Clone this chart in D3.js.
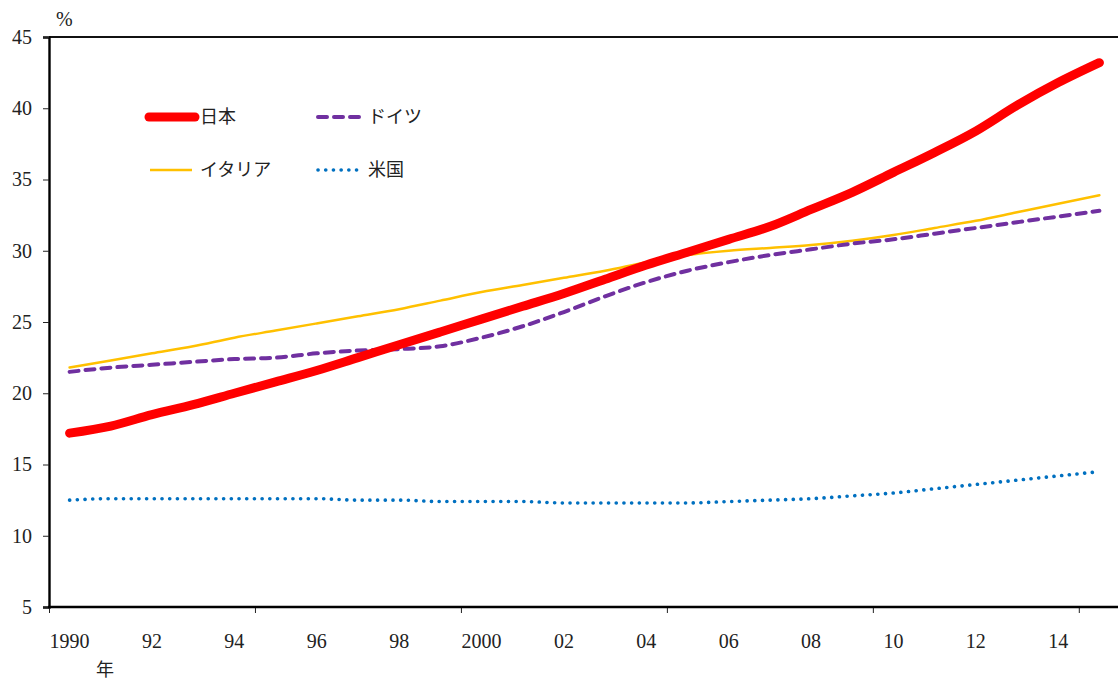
<!DOCTYPE html>
<html>
<head>
<meta charset="utf-8">
<script src="https://cdn.jsdelivr.net/npm/d3@7"></script>
<style>
  body { margin: 0; background: #fff; }
  svg text { fill: #222; }
  .num { font-family: 'Liberation Serif', 'DejaVu Serif', serif; font-size: 20px; }
  .jp { font-family: 'Noto Sans CJK JP', sans-serif; font-size: 18px; }
</style>
</head>
<body>
<div id="chart"></div>
<script>
// data
var years = [1990, 1991, 1992, 1993, 1994, 1995, 1996, 1997, 1998, 1999, 2000, 2001, 2002,
             2003, 2004, 2005, 2006, 2007, 2008, 2009, 2010, 2011, 2012, 2013, 2014, 2015];
var japan   = [17.2, 17.7, 18.5, 19.2, 20.0, 20.8, 21.6, 22.5, 23.4, 24.3, 25.2, 26.1, 27.0,
               28.0, 29.0, 29.9, 30.8, 31.7, 32.9, 34.1, 35.5, 36.9, 38.4, 40.2, 41.8, 43.2];
var germany = [21.5, 21.8, 22.0, 22.2, 22.4, 22.5, 22.8, 23.0, 23.1, 23.3, 23.9, 24.7, 25.7,
               26.8, 27.8, 28.6, 29.2, 29.7, 30.1, 30.5, 30.8, 31.2, 31.6, 32.0, 32.4, 32.8];
var italy   = [21.8, 22.3, 22.8, 23.3, 23.9, 24.4, 24.9, 25.4, 25.9, 26.5, 27.1, 27.6, 28.1,
               28.6, 29.2, 29.7, 30.0, 30.2, 30.4, 30.7, 31.1, 31.6, 32.1, 32.7, 33.3, 33.9];
var usa     = [12.5, 12.6, 12.6, 12.6, 12.6, 12.6, 12.6, 12.5, 12.5, 12.4, 12.4, 12.4, 12.3,
               12.3, 12.3, 12.3, 12.4, 12.5, 12.6, 12.8, 13.0, 13.3, 13.6, 13.9, 14.2, 14.5];
var seriesNames = ['日本', 'ドイツ', 'イタリア', '米国'];
var yTicks = [5, 10, 15, 20, 25, 30, 35, 40, 45];
var xLabelYears = [1990, 1992, 1994, 1996, 1998, 2000, 2002, 2004, 2006, 2008, 2010, 2012, 2014];

(function() {
  var width = 1118, height = 680;
  var plotLeft = 49, plotRight = 1120, plotTop = 37, plotBottom = 607;

  var svg = d3.select('#chart').append('svg')
      .attr('width', width)
      .attr('height', height);

  var x = d3.scaleBand().domain(years).range([plotLeft, plotRight]).padding(0);
  var xEdge = d3.scaleLinear().domain([0, years.length]).range([plotLeft, plotRight]);
  var y = d3.scaleLinear().domain([5, 45]).range([plotBottom, plotTop]);

  var styles = [
    { color: '#FF0000', width: 9, dash: null },
    { color: '#7030A0', width: 4, dash: '9,7' },
    { color: '#FFC000', width: 2.5, dash: null },
    { color: '#0070C0', width: 3.6, dash: '0.1,7.6' }
  ];
  var values = [japan, germany, italy, usa];

  // top frame line
  svg.append('line')
      .attr('x1', plotLeft).attr('x2', width)
      .attr('y1', y(45)).attr('y2', y(45))
      .attr('stroke', '#111').attr('stroke-width', 2);

  // y axis
  var yAxis = svg.append('g')
      .attr('class', 'num')
      .attr('transform', 'translate(' + plotLeft + ',0)')
      .call(d3.axisLeft(y).tickValues(yTicks).tickSize(6).tickPadding(11));
  yAxis.select('.domain').attr('stroke', '#000').attr('stroke-width', 2.4);
  yAxis.selectAll('.tick line').attr('stroke', '#222');
  yAxis.selectAll('text').attr('font-size', 20).attr('font-family', null);

  // x axis: labels at category centers, tick marks every 5 categories on band edges
  var xAxis = svg.append('g')
      .attr('class', 'num')
      .attr('transform', 'translate(0,' + plotBottom + ')')
      .call(d3.axisBottom(x).tickValues(xLabelYears).tickSize(0).tickPadding(27)
        .tickFormat(function(d) {
          if (d == 1990 || d == 2000) return d;
          return String(d).slice(2);
        }));
  xAxis.select('.domain').remove();
  xAxis.selectAll('text').attr('font-size', 20).attr('font-family', null);

  var xTicks = svg.append('g')
      .attr('transform', 'translate(0,' + plotBottom + ')')
      .call(d3.axisBottom(xEdge).tickValues([0, 5, 10, 15, 20, 25]).tickSize(6).tickFormat(''));
  xTicks.select('.domain').remove();
  xTicks.selectAll('.tick line').attr('stroke', '#222');

  svg.append('line')
      .attr('x1', plotLeft - 1).attr('x2', width)
      .attr('y1', plotBottom).attr('y2', plotBottom)
      .attr('stroke', '#000').attr('stroke-width', 2.4);

  // units
  svg.append('text')
      .attr('class', 'num')
      .attr('x', 56).attr('y', 26)
      .attr('font-size', 17)
      .text('%');

  svg.append('text')
      .attr('class', 'jp')
      .attr('x', 96).attr('y', 676)
      .attr('font-size', 20)
      .text('年');

  // lines
  var line = d3.line()
      .x(function(d, i) { return x(years[i]) + x.bandwidth() / 2; })
      .y(function(d) { return y(d); })
      .curve(d3.curveMonotoneX);

  var drawOrder = [3, 2, 1, 0];
  drawOrder.forEach(function(k) {
    var s = styles[k];
    svg.append('path')
        .datum(values[k])
        .attr('fill', 'none')
        .attr('stroke', s.color)
        .attr('stroke-width', s.width)
        .attr('stroke-linecap', 'round')
        .attr('stroke-linejoin', 'round')
        .attr('stroke-dasharray', s.dash)
        .attr('d', line);
  });

  // legend
  var legendPos = [
    { x: 150, y: 117 },
    { x: 318, y: 117 },
    { x: 150, y: 170 },
    { x: 318, y: 170 }
  ];
  var legend = svg.append('g').attr('class', 'legend');
  seriesNames.forEach(function(name, k) {
    var p = legendPos[k];
    var s = styles[k];
    legend.append('line')
        .attr('x1', p.x - (k == 0 ? 1 : 0)).attr('x2', p.x + 42 + (k == 0 ? 3 : 0))
        .attr('y1', p.y).attr('y2', p.y)
        .attr('stroke', s.color)
        .attr('stroke-width', s.width)
        .attr('stroke-linecap', k == 2 ? 'butt' : 'round')
        .attr('stroke-dasharray', s.dash);
    legend.append('text')
        .attr('class', 'jp')
        .attr('x', k % 2 == 0 ? 200 : 368)
        .attr('y', p.y)
        .attr('dy', '0.36em')
        .text(name);
  });
})();
</script>
</body>
</html>
